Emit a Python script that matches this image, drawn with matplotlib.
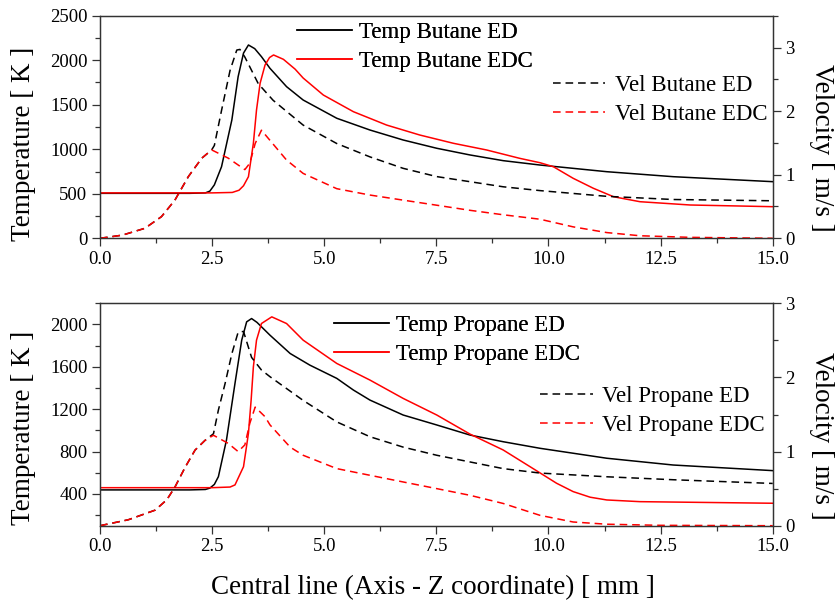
import matplotlib
matplotlib.use("Agg")
import matplotlib.pyplot as plt
from matplotlib.ticker import MultipleLocator

plt.rcParams['font.family'] = ['Liberation Serif', 'DejaVu Serif']

# ---- Butane (top panel) ----
bu_z_temp_ed = [0, 2.0, 2.35, 2.45, 2.55, 2.71, 2.94, 3.08, 3.2, 3.31, 3.45, 3.6, 3.79, 4.16,
                4.53, 5.28, 6.02, 6.76, 7.51, 8.25, 8.99, 9.81, 11.30, 12.78, 15.0]
bu_temp_ed = [505, 505, 510, 530, 600, 804, 1329, 1815, 2080, 2171, 2130, 2040, 1909, 1703,
              1553, 1348, 1216, 1104, 1011, 936, 872, 823, 748, 692, 636]

bu_z_temp_edc = [0, 2.5, 2.95, 3.1, 3.2, 3.31, 3.42, 3.49, 3.57, 3.68, 3.78, 3.87, 4.09, 4.35,
                 4.53, 4.98, 5.65, 6.39, 7.13, 7.88, 8.62, 9.36, 9.81, 10.11, 10.55, 11.0,
                 11.45, 12.04, 13.16, 15.0]
bu_temp_edc = [510, 510, 515, 540, 590, 692, 1067, 1441, 1741, 1946, 2030, 2059, 2010, 1900,
               1800, 1609, 1422, 1272, 1160, 1067, 992, 898, 849, 804, 674, 562,
               467, 411, 374, 355]

bu_z_vel_ed = [0, 0.5, 1.0, 1.37, 1.67, 1.97, 2.27, 2.49, 2.55, 2.71, 2.90, 3.05, 3.12, 3.23,
               3.53, 3.86, 4.53, 5.28, 6.02, 6.76, 7.51, 8.25, 8.99, 9.81, 11.30, 12.78, 15.0]
bu_vel_ed = [0, 0.05, 0.157, 0.34, 0.60, 0.97, 1.26, 1.39, 1.46, 2.01, 2.64, 2.96, 2.97, 2.85,
             2.43, 2.17, 1.78, 1.49, 1.28, 1.10, 0.97, 0.89, 0.81, 0.75, 0.66, 0.61, 0.59]

bu_z_vel_edc = [0, 0.5, 1.0, 1.37, 1.67, 1.97, 2.27, 2.49, 2.86, 3.23, 3.34, 3.46, 3.60, 3.79,
                4.16, 4.53, 5.28, 6.02, 6.76, 7.51, 8.25, 8.99, 9.81, 10.55, 11.30, 12.04,
                13.16, 15.0]
bu_vel_edc = [0, 0.05, 0.157, 0.34, 0.60, 0.97, 1.26, 1.39, 1.26, 1.08, 1.18, 1.49, 1.70, 1.54,
              1.23, 1.02, 0.78, 0.68, 0.60, 0.52, 0.44, 0.37, 0.30, 0.18, 0.09, 0.04,
              0.015, 0.0]

# ---- Propane (bottom panel) ----
pr_z_temp_ed = [0, 2.0, 2.35, 2.45, 2.55, 2.64, 2.82, 3.01, 3.16, 3.27, 3.38, 3.5, 3.79, 4.24,
                4.68, 5.28, 5.65, 6.02, 6.76, 7.51, 8.25, 8.99, 9.81, 11.30, 12.78, 15.0]
pr_temp_ed = [438, 438, 442, 455, 490, 563, 909, 1444, 1852, 2025, 2056, 2020, 1899, 1726,
              1616, 1491, 1381, 1286, 1145, 1051, 956, 893, 831, 737, 673, 620]

pr_z_temp_edc = [0, 2.5, 2.9, 3.01, 3.20, 3.31, 3.37, 3.42, 3.49, 3.60, 3.83, 4.16, 4.53, 5.28,
                 6.02, 6.76, 7.51, 8.25, 8.99, 9.59, 9.81, 10.18, 10.55, 10.93, 11.30, 12.04, 15.0]
pr_temp_edc = [459, 459, 465, 485, 657, 972, 1286, 1600, 1852, 2009, 2072, 2009, 1852, 1632,
               1475, 1302, 1145, 965, 815, 657, 599, 501, 422, 369, 343, 327, 312]

pr_z_vel_ed = [0, 0.63, 1.23, 1.49, 1.67, 1.90, 2.12, 2.34, 2.53, 2.64, 2.79, 2.94, 3.08, 3.20,
               3.38, 3.60, 3.79, 4.53, 5.28, 6.02, 6.76, 7.51, 8.25, 8.99, 9.81, 11.30, 12.78, 15.0]
pr_vel_ed = [0, 0.08, 0.21, 0.35, 0.52, 0.79, 1.02, 1.15, 1.24, 1.56, 1.92, 2.32, 2.61, 2.62,
             2.27, 2.10, 2.01, 1.69, 1.40, 1.20, 1.06, 0.95, 0.86, 0.77, 0.71, 0.66, 0.62, 0.57]

pr_z_vel_edc = [0, 0.63, 1.23, 1.49, 1.67, 1.90, 2.12, 2.34, 2.53, 2.86, 3.08, 3.23, 3.34, 3.46,
                3.68, 3.79, 4.24, 4.53, 5.28, 6.02, 6.76, 7.51, 8.25, 8.99, 9.81, 10.55, 11.30,
                12.5, 15.0]
pr_vel_edc = [0, 0.08, 0.21, 0.35, 0.52, 0.79, 1.02, 1.15, 1.22, 1.11, 1.00, 1.09, 1.38, 1.60,
              1.47, 1.36, 1.06, 0.95, 0.77, 0.68, 0.59, 0.50, 0.41, 0.30, 0.14, 0.05, 0.02,
              0.005, 0.0]

x_ticks = [0.0, 2.5, 5.0, 7.5, 10.0, 12.5, 15.0]

W, H = 837, 605
fig = plt.figure(figsize=(W / 100, H / 100), dpi=100)

dash = (0, (5, 3.2))
lw = 1.1
tick_fs = 13.5
lab_fs = 19.5
leg_fs = 16.5


def style_axis(ax):
    for s in ax.spines.values():
        s.set_linewidth(0.9)
        s.set_color('#333333')
    ax.tick_params(which='major', direction='out', length=6, width=0.9,
                   labelsize=tick_fs, color='#333333', pad=3)
    ax.tick_params(which='minor', direction='out', length=3.5, width=0.9, color='#333333')


def panel(rect, zt_ed, t_ed, zt_edc, t_edc, zv_ed, v_ed, zv_edc, v_edc,
          fuel, tlim, tmaj, tmin, vlim, leg1, leg2):
    ax = fig.add_axes(rect)
    ax2 = ax.twinx()
    l1, = ax.plot(zt_ed, t_ed, color='black', lw=lw, label='Temp %s ED' % fuel)
    l2, = ax.plot(zt_edc, t_edc, color='red', lw=lw, label='Temp %s EDC' % fuel)
    l3, = ax2.plot(zv_ed, v_ed, color='black', lw=lw, ls=dash, label='Vel %s ED' % fuel)
    l4, = ax2.plot(zv_edc, v_edc, color='red', lw=lw, ls=dash, label='Vel %s EDC' % fuel)

    ax.set_xlim(0, 15)
    ax.set_xticks(x_ticks)
    ax.set_xticklabels(['%.1f' % t for t in x_ticks])
    ax.xaxis.set_minor_locator(MultipleLocator(1.25))
    ax.set_ylim(*tlim)
    ax.yaxis.set_major_locator(MultipleLocator(tmaj))
    ax.yaxis.set_minor_locator(MultipleLocator(tmin))
    ax2.set_ylim(*vlim)
    ax2.yaxis.set_major_locator(MultipleLocator(1))
    ax2.yaxis.set_minor_locator(MultipleLocator(0.5))
    style_axis(ax)
    style_axis(ax2)

    lg1 = ax.legend(handles=[l1, l2], loc='upper left', bbox_to_anchor=leg1,
                    frameon=False, fontsize=leg_fs, handlelength=2.4,
                    handletextpad=0.3, labelspacing=0.36, borderpad=0, borderaxespad=0)
    ax.add_artist(lg1)
    ax2.legend(handles=[l3, l4], loc='upper left', bbox_to_anchor=leg2,
               frameon=False, fontsize=leg_fs, handlelength=2.3,
               handletextpad=0.4, labelspacing=0.36, borderpad=0, borderaxespad=0)
    return ax, ax2


ax_l = 100 / W
ax_w = 672.7 / W
top = panel([ax_l, 1 - 238.3 / H, ax_w, 222.6 / H],
            bu_z_temp_ed, bu_temp_ed, bu_z_temp_edc, bu_temp_edc,
            bu_z_vel_ed, bu_vel_ed, bu_z_vel_edc, bu_vel_edc,
            'Butane', (0, 2500), 500, 250, (0, 3.5), (0.293, 0.972), (0.673, 0.734))
bot = panel([ax_l, 1 - 525.7 / H, ax_w, 222.4 / H],
            pr_z_temp_ed, pr_temp_ed, pr_z_temp_edc, pr_temp_edc,
            pr_z_vel_ed, pr_vel_ed, pr_z_vel_edc, pr_vel_edc,
            'Propane', (100, 2200), 400, 200, (0, 3.0), (0.348, 0.947), (0.654, 0.629))

fig.text(24 / W, 1 - 144 / H, 'Temperature [ K ]', rotation=90, ha='center', va='center', fontsize=lab_fs)
fig.text(24 / W, 1 - 428 / H, 'Temperature [ K ]', rotation=90, ha='center', va='center', fontsize=lab_fs)
fig.text(822 / W, 1 - 148 / H, 'Velocity [ m/s ]', rotation=-90, ha='center', va='center', fontsize=lab_fs)
fig.text(822 / W, 1 - 436 / H, 'Velocity [ m/s ]', rotation=-90, ha='center', va='center', fontsize=lab_fs)
fig.text(433 / W, 1 - 588 / H, 'Central line (Axis - Z coordinate) [ mm ]', ha='center', va='center',
         fontsize=lab_fs)

fig.savefig('out.png', dpi=100)
